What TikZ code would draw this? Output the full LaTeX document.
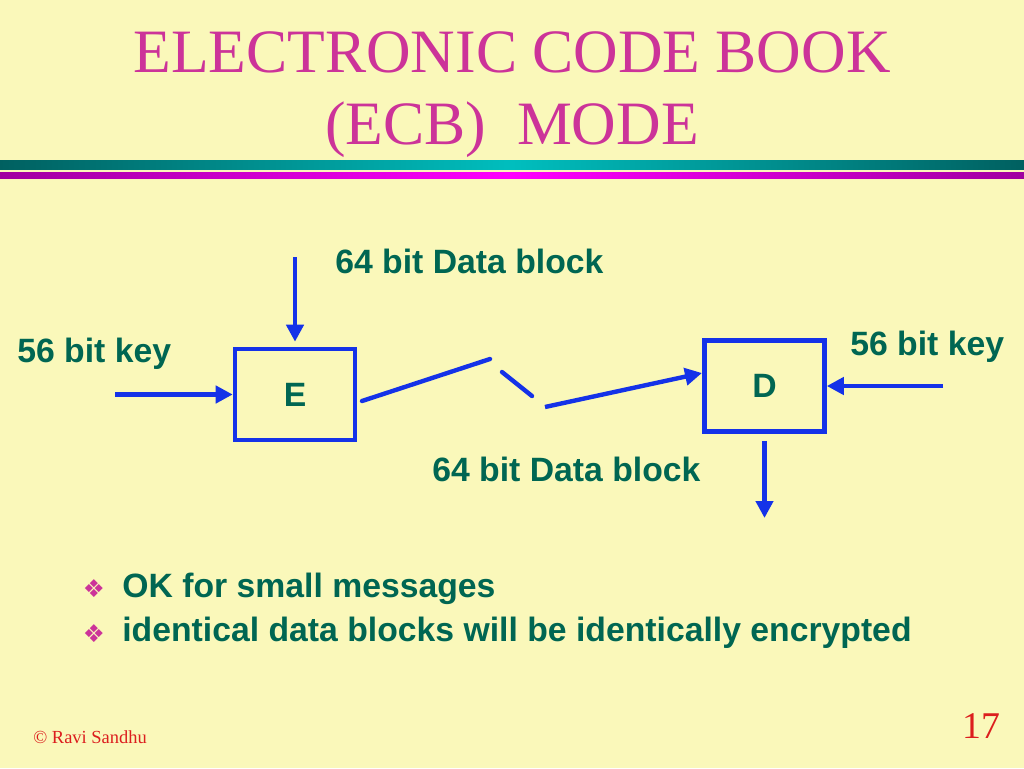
\documentclass[tikz,border=0pt]{standalone}
\usepackage{fontspec}
\setmainfont{Liberation Serif}
\setsansfont{Liberation Sans}
\newfontfamily\symfont{DejaVu Sans}
\usepackage{tkz-euclide}
\usepackage{tikz}
\usetikzlibrary{arrows.meta}

\definecolor{slidebg}{RGB}{250,248,186}
\definecolor{titlepink}{RGB}{204,51,153}
\definecolor{labelgreen}{RGB}{0,102,82}
\definecolor{boxblue}{RGB}{20,50,232}
\definecolor{tealdark}{RGB}{0,96,96}
\definecolor{teallight}{RGB}{0,190,190}
\definecolor{magdark}{RGB}{160,0,160}
\definecolor{maglight}{RGB}{255,0,255}
\definecolor{notered}{RGB}{220,30,30}

\tikzset{
  cipherbox/.style={draw=boxblue, line width=2.6pt, minimum width=2.4cm,
    minimum height=1.82cm, inner sep=0pt, text=labelgreen,
    font=\sffamily\bfseries\fontsize{19.2}{23}\selectfont},
  label/.style={text=labelgreen, inner sep=0pt,
    font=\sffamily\bfseries\fontsize{19.2}{23}\selectfont},
  arr/.style={draw=boxblue, line width=2.5pt,
    -{Triangle[length=0.34cm, width=0.34cm]}},
  seg/.style={draw=boxblue, line width=2.5pt}
}

\begin{document}
\begin{tikzpicture}[x=0.02cm, y=-0.02cm]
    \fill[slidebg] (0,0) rectangle (1024,768);
    \useasboundingbox (0,0) rectangle (1024,768);
    % title
    \node[anchor=base, text=titlepink, inner sep=0pt,
      font=\fontsize{35.1}{40}\selectfont] (title1) at (512,72) {ELECTRONIC CODE BOOK};
    \node[anchor=base, text=titlepink, inner sep=0pt,
      font=\fontsize{35.1}{40}\selectfont] (title2) at (512,144) {(ECB)\ \ MODE};
    \shade[left color=tealdark, right color=tealdark, middle color=teallight]
      (0,160) rectangle (1024,169);
    \shade[left color=magdark, right color=magdark, middle color=maglight]
      (0,172) rectangle (1024,178);
    % boxes
    \node[cipherbox] (E) at (295,394.5) {E};
    \node[cipherbox] (D) at (764.5,386) {D};
    \tkzDefPoints{115/394.5/KE,295/257/PE,943/386/KD,764.5/518/PD}
    \tkzDefPoints{362/401/M1,490/359/M2,502/372/M3,532/396/M4,545/407/M5,702/373/M6}
    \draw[arr] (KE) -- (E);
    \draw[arr] (PE) -- ([yshift=0.1cm]E.north);
    \draw[arr] (KD) -- (D);
    \draw[arr] ([yshift=-0.14cm]D.south) -- (PD);
    \tkzDrawSegments[seg](M1,M2 M3,M4)
    \draw[arr] (M5) -- (M6);
    % labels
    \node[label, anchor=base west] (keyE) at (17,362) {56 bit key};
    \node[label, anchor=base west] (keyD) at (850,355) {56 bit key};
    \node[label, anchor=base west] (dataE) at (335,273) {64 bit Data block};
    \node[label, anchor=base west] (dataD) at (432,481) {64 bit Data block};
    % bullets
    \node[anchor=center, text=titlepink, inner sep=0pt,
      font=\symfont\fontsize{14}{16}\selectfont] (b1) at (94,589) {❖};
    \node[anchor=center, text=titlepink, inner sep=0pt,
      font=\symfont\fontsize{14}{16}\selectfont] (b2) at (94,634) {❖};
    \node[label, anchor=base west] (t1) at (122,597) {OK for small messages};
    \node[label, anchor=base west] (t2) at (122,641) {identical data blocks will be identically encrypted};
    % footer
    \node[anchor=base west, text=notered, inner sep=0pt,
      font=\fontsize{10.5}{12}\selectfont] (copy) at (33,743) {© Ravi Sandhu};
    \node[anchor=base west, text=notered, inner sep=0pt,
      font=\fontsize{21.5}{24}\selectfont] (page) at (962,738) {17};
\end{tikzpicture}
\end{document}
